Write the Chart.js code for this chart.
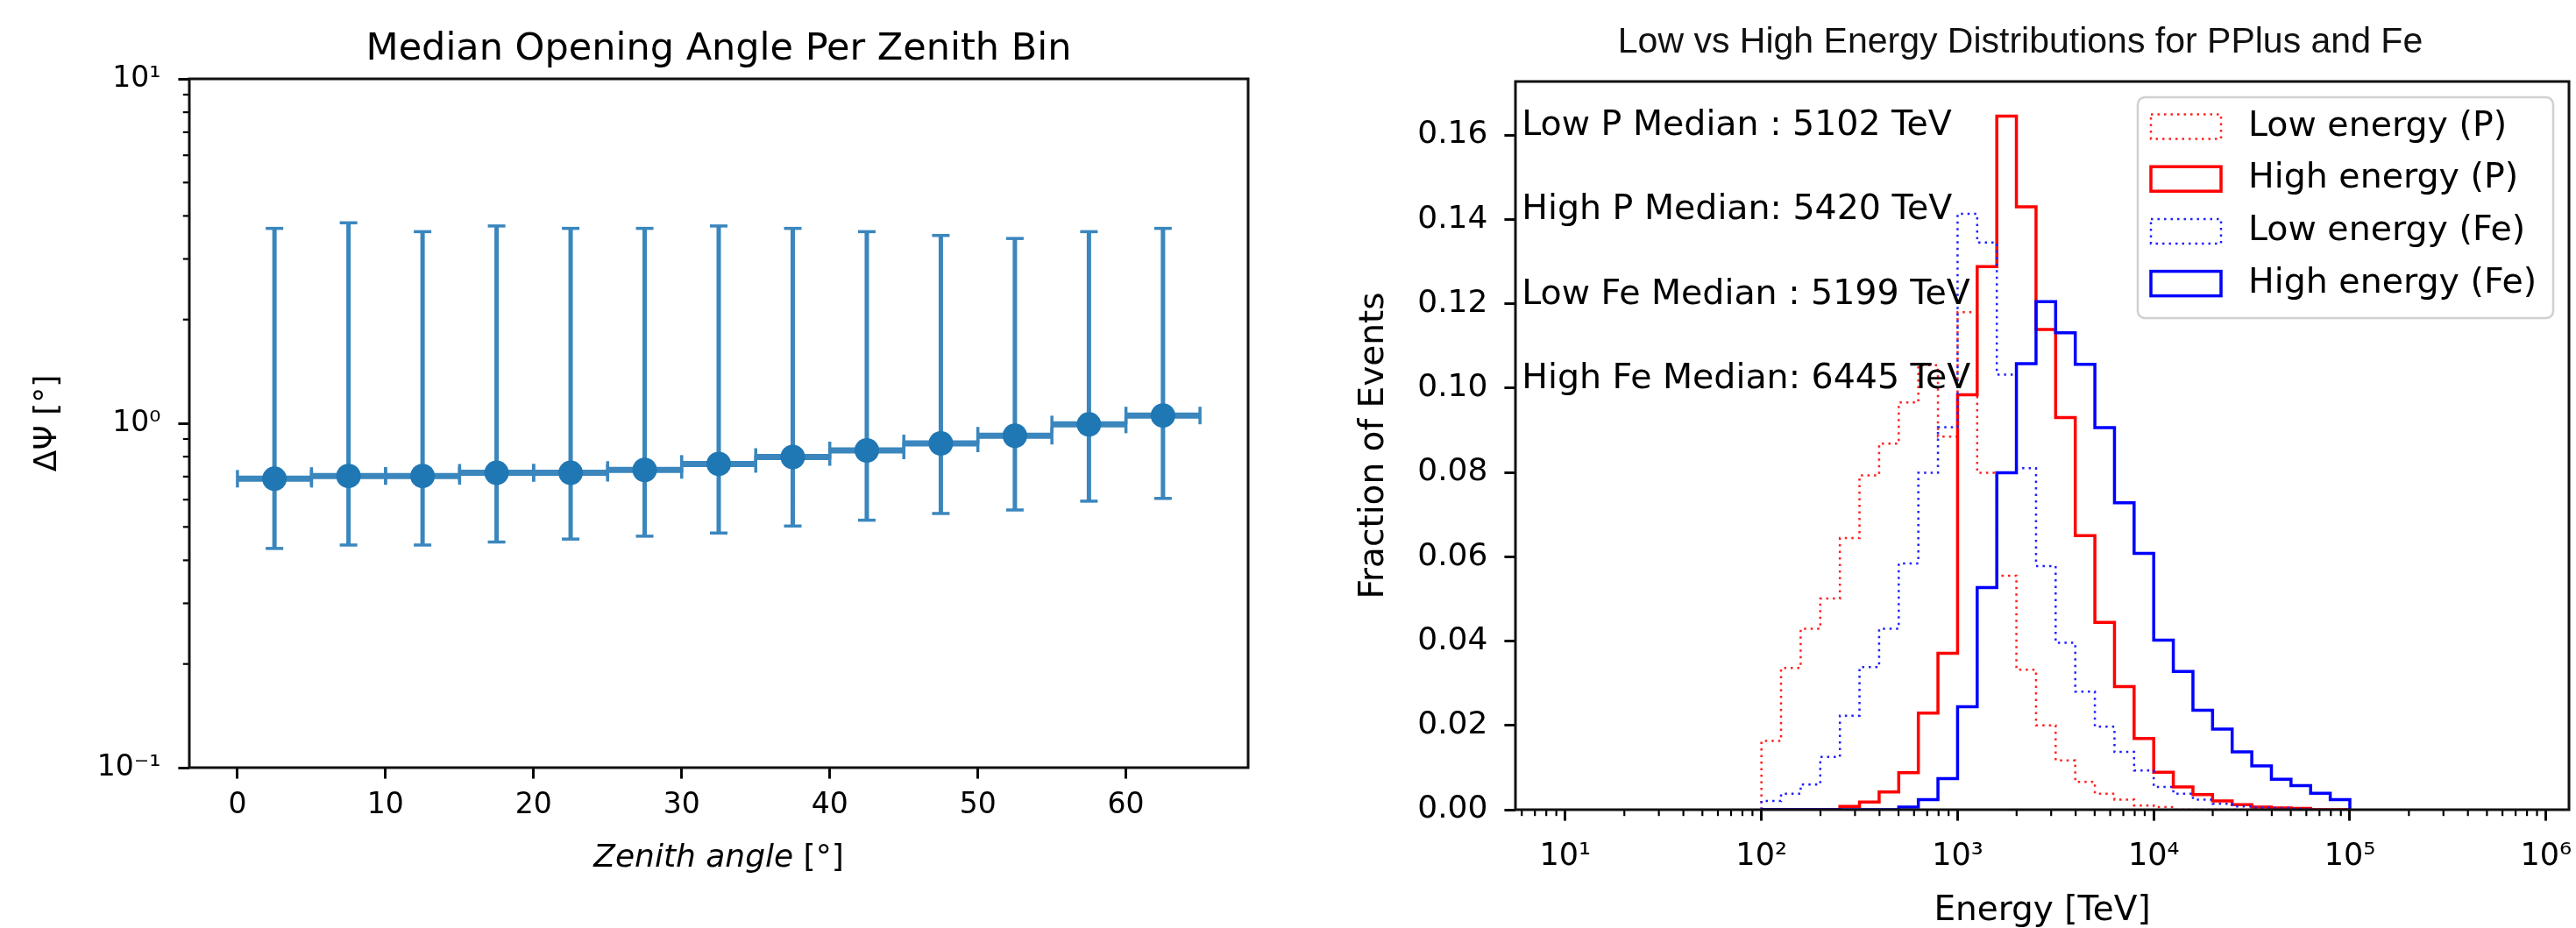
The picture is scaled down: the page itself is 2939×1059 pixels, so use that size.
<!DOCTYPE html>
<html>
<head>
<meta charset="utf-8">
<script src="https://cdn.jsdelivr.net/npm/chart.js@4.4.0/dist/chart.umd.min.js"></script>
<style>
  html, body { margin: 0; padding: 0; background: #fff; overflow: hidden; }
  #wrap { position: relative; width: 2939px; height: 1059px; overflow: hidden; background: #fff; }
  canvas { position: absolute; top: 0; }
</style>
</head>
<body>
<div id="wrap">
  <canvas id="zenith" width="1470" height="1059" style="left:0px"></canvas>
  <canvas id="energy" width="1500" height="1059" style="left:1470px"></canvas>
</div>
<script>
// left panel: median opening angle per zenith bin
const zenithCenters = [2.5, 7.5, 12.5, 17.5, 22.5, 27.5, 32.5, 37.5, 42.5, 47.5, 52.5, 57.5, 62.5];
const zenithLow     = [0, 5, 10, 15, 20, 25, 30, 35, 40, 45, 50, 55, 60];
const zenithHigh    = [5, 10, 15, 20, 25, 30, 35, 40, 45, 50, 55, 60, 65];
const medianAngle   = [0.690, 0.703, 0.703, 0.718, 0.718, 0.732, 0.762, 0.798, 0.834, 0.874, 0.920, 0.992, 1.053];
const angleLow      = [0.433, 0.443, 0.443, 0.452, 0.461, 0.470, 0.480, 0.503, 0.523, 0.547, 0.560, 0.594, 0.605];
const angleHigh     = [3.68, 3.82, 3.60, 3.74, 3.68, 3.68, 3.74, 3.68, 3.60, 3.51, 3.44, 3.60, 3.68];
const zenithTicks   = [0, 10, 20, 30, 40, 50, 60];
const angleTicks    = [0.1, 1, 10];
const angleTickLabels = ['10\u207B\u00B9', '10\u2070', '10\u00B9'];

// right panel: energy histograms (fraction of events per bin)
const energyEdges = [100, 125.89, 158.49, 199.53, 251.19, 316.23, 398.11, 501.19, 630.96, 794.33,
  1000, 1258.9, 1584.9, 1995.3, 2511.9, 3162.3, 3981.1, 5011.9, 6309.6, 7943.3,
  10000, 12589, 15849, 19953, 25119, 31623, 39811, 50119, 63096, 79433, 100000];
const lowP   = [0.0163, 0.0336, 0.0429, 0.0501, 0.0644, 0.0793, 0.0868, 0.0966, 0.1054, 0.0885,
  0.1180, 0.0799, 0.0555, 0.0332, 0.0200, 0.0117, 0.0066, 0.0038, 0.0024, 0.0010,
  0.0006, 0, 0, 0, 0, 0, 0, 0, 0, 0];
const highP  = [0, 0, 0, 0, 0.0008, 0.0018, 0.0042, 0.0088, 0.0229, 0.0371,
  0.0984, 0.1288, 0.1645, 0.1430, 0.1139, 0.0930, 0.0650, 0.0444, 0.0292, 0.0169,
  0.0089, 0.0054, 0.0036, 0.0021, 0.0012, 0.0006, 0.0004, 0.0003, 0, 0];
const lowFe  = [0.0021, 0.0038, 0.0060, 0.0125, 0.0223, 0.0338, 0.0429, 0.0584, 0.0799, 0.0907,
  0.1413, 0.1345, 0.1032, 0.0810, 0.0578, 0.0396, 0.0280, 0.0197, 0.0137, 0.0093,
  0.0054, 0.0038, 0.0024, 0.0014, 0.0008, 0.0005, 0.0004, 0.0002, 0, 0];
const highFe = [0, 0, 0, 0, 0, 0, 0, 0.0006, 0.0024, 0.0074,
  0.0244, 0.0527, 0.0799, 0.1058, 0.1205, 0.1131, 0.1056, 0.0906, 0.0728, 0.0608,
  0.0402, 0.0328, 0.0236, 0.0191, 0.0137, 0.0104, 0.0072, 0.0057, 0.0039, 0.0024];
const seriesNames = ['Low energy (P)', 'High energy (P)', 'Low energy (Fe)', 'High energy (Fe)'];
const energyTicks = [10, 100, 1000, 10000, 100000, 1000000];
const energyTickLabels = ['10\u00B9', '10\u00B2', '10\u00B3', '10\u2074', '10\u2075', '10\u2076'];
const fractionTicks = [0, 0.02, 0.04, 0.06, 0.08, 0.10, 0.12, 0.14, 0.16];
const medianNotes = ['Low P Median : 5102 TeV', 'High P Median: 5420 TeV', 'Low Fe Median : 5199 TeV', 'High Fe Median: 6445 TeV'];
const medianNoteY = [0.16, 0.14, 0.12, 0.10];
const medianNoteX = 6;

const FONT = 'DejaVu Sans';
const BLUE = '#1f77b4';
const BAR_BLUE = '#3a86bd';

function logMinor(lo, hi) {
  const out = [];
  for (let e = lo; e <= hi; e++) {
    for (let m = 2; m <= 9; m++) out.push(m * Math.pow(10, e));
  }
  return out;
}

function drawMinor(ctx, scale, values, len, horizontal) {
  ctx.save();
  ctx.strokeStyle = '#000';
  ctx.lineWidth = 2.2;
  values.forEach(v => {
    if (v < scale.min || v > scale.max) return;
    const p = scale.getPixelForValue(v);
    ctx.beginPath();
    if (horizontal) { ctx.moveTo(p, scale.top); ctx.lineTo(p, scale.top + len); }
    else { ctx.moveTo(scale.right, p); ctx.lineTo(scale.right - len, p); }
    ctx.stroke();
  });
  ctx.restore();
}

function drawBox(ctx, a) {
  ctx.save();
  ctx.strokeStyle = '#111';
  ctx.lineWidth = 3;
  ctx.strokeRect(a.left, a.top, a.right - a.left, a.bottom - a.top);
  ctx.restore();
}

function stepPoints(edges, values) {
  const pts = [{x: edges[0], y: 0}];
  values.forEach((v, i) => pts.push({x: edges[i], y: v}));
  pts.push({x: edges[values.length], y: 0});
  return pts;
}

// error bar segments, broken with null between bins
const vBars = [];
const hBars = [];
zenithCenters.forEach((c, i) => {
  vBars.push({x: c, y: angleLow[i]}, {x: c, y: angleHigh[i]}, {x: c, y: null});
  hBars.push({x: zenithLow[i], y: medianAngle[i]}, {x: zenithHigh[i], y: medianAngle[i]}, {x: zenithLow[i], y: null});
});

const zenithDecor = {
  id: 'zenithDecor',
  afterDatasetsDraw(chart) {
    const ctx = chart.ctx, a = chart.chartArea;
    drawMinor(ctx, chart.scales.y, logMinor(-1, 0), 7.2, false);
    drawBox(ctx, a);
    ctx.save();
    ctx.fillStyle = '#000';
    ctx.textBaseline = 'alphabetic';
    ctx.textAlign = 'center';
    ctx.font = '43px "' + FONT + '"';
    ctx.fillText('Median Opening Angle Per Zenith Bin', (a.left + a.right) / 2, 68);
    // x label: italic math part + upright unit
    const it = 'Zenith angle', up = ' [\u00B0]';
    ctx.font = 'italic 36px "' + FONT + '"';
    const w1 = ctx.measureText(it).width;
    ctx.font = '36px "' + FONT + '"';
    const w2 = ctx.measureText(up).width;
    const x0 = (a.left + a.right) / 2 - (w1 + w2) / 2;
    ctx.textAlign = 'left';
    ctx.textBaseline = 'middle';
    ctx.font = 'italic 36px "' + FONT + '"';
    ctx.fillText(it, x0, 980);
    ctx.font = '36px "' + FONT + '"';
    ctx.fillText(up, x0 + w1, 980);
    // y label
    ctx.translate(55, (a.top + a.bottom) / 2);
    ctx.rotate(-Math.PI / 2);
    ctx.textAlign = 'center';
    ctx.fillText('\u0394\u03A8 [\u00B0]', 0, 0);
    ctx.restore();
  }
};

new Chart(document.getElementById('zenith'), {
  type: 'scatter',
  data: {
    datasets: [
      { label: 'median', data: zenithCenters.map((x, i) => ({x, y: medianAngle[i]})),
        showLine: false, pointRadius: 14, pointBackgroundColor: BLUE, pointBorderWidth: 0, order: 0 },
      { label: 'xerr', data: hBars, showLine: true, spanGaps: false, borderColor: BAR_BLUE, borderWidth: 7,
        pointStyle: 'line', pointRotation: 90, pointRadius: 10, pointBorderColor: BAR_BLUE, pointBorderWidth: 3.5, order: 1 },
      { label: 'yerr', data: vBars, showLine: true, spanGaps: false, borderColor: BAR_BLUE, borderWidth: 5,
        pointStyle: 'line', pointRotation: 0, pointRadius: 10, pointBorderColor: BAR_BLUE, pointBorderWidth: 3.5, order: 2 }
    ]
  },
  options: {
    responsive: false,
    animation: false,
    events: [],
    layout: { padding: { top: 90, right: 46, bottom: 0, left: 0 } },
    plugins: { legend: { display: false }, tooltip: { enabled: false }, title: { display: false } },
    scales: {
      x: {
        type: 'linear', min: -3.25, max: 68.25,
        afterFit: s => { s.height = 183; },
        afterBuildTicks: s => { s.ticks = zenithTicks.map(v => ({value: v})); },
        ticks: { font: { family: FONT, size: 33 }, color: '#000', padding: 11, maxRotation: 0, autoSkip: false,
                 callback: v => String(v) },
        grid: { display: true, drawOnChartArea: false, drawTicks: true, tickLength: 12.6, tickWidth: 2.9, tickColor: '#000' },
        border: { display: false }
      },
      y: {
        type: 'logarithmic', min: 0.1, max: 10,
        afterFit: s => { s.width = 216; },
        afterBuildTicks: s => { s.ticks = angleTicks.map(v => ({value: v})); },
        ticks: { font: { family: FONT, size: 33 }, color: '#000', padding: 20, autoSkip: false,
                 callback: (v, i) => angleTickLabels[i] },
        grid: { display: true, drawOnChartArea: false, drawTicks: true, tickLength: 12.6, tickWidth: 2.9, tickColor: '#000' },
        border: { display: false }
      }
    }
  },
  plugins: [zenithDecor]
});

const energyDecor = {
  id: 'energyDecor',
  afterDatasetsDraw(chart) {
    const ctx = chart.ctx, a = chart.chartArea;
    const xs = chart.scales.x, ys = chart.scales.y;
    drawMinor(ctx, xs, logMinor(0, 6), 7.2, true);
    drawBox(ctx, a);
    ctx.save();
    ctx.fillStyle = '#000';
    // median notes
    ctx.font = '39.5px "' + FONT + '"';
    ctx.textAlign = 'left';
    ctx.textBaseline = 'alphabetic';
    medianNotes.forEach((t, i) => {
      ctx.fillText(t, xs.getPixelForValue(medianNoteX), ys.getPixelForValue(medianNoteY[i]));
    });
    // legend
    const fw = 474, fh = 252;
    const fx = a.right - 18 - fw, fy = a.top + 18;
    ctx.beginPath();
    ctx.roundRect(fx, fy, fw, fh, 8);
    ctx.fillStyle = 'rgba(255,255,255,0.8)';
    ctx.fill();
    ctx.strokeStyle = '#d0d0d0';
    ctx.lineWidth = 2.5;
    ctx.stroke();
    ctx.textBaseline = 'middle';
    chart.data.datasets.forEach((ds, i) => {
      const cy = fy + 33.5 + i * 59.7;
      ctx.save();
      ctx.strokeStyle = ds.borderColor;
      ctx.lineWidth = ds.borderWidth;
      ctx.setLineDash(ds.borderDash || []);
      ctx.strokeRect(fx + 15, cy - 14, 80, 28);
      ctx.restore();
      ctx.fillStyle = '#000';
      ctx.fillText(seriesNames[i], fx + 126, cy);
    });
    // titles
    ctx.textAlign = 'center';
    ctx.font = '39px "' + FONT + '"';
    ctx.fillText('Energy [TeV]', (a.left + a.right) / 2, 1040);
    ctx.font = '41px "Liberation Sans"';
    ctx.fillStyle = '#111';
    ctx.textBaseline = 'alphabetic';
    ctx.fillText('Low vs High Energy Distributions for PPlus and Fe', 835, 60);
    ctx.fillStyle = '#000';
    ctx.font = '39px "' + FONT + '"';
    ctx.textBaseline = 'middle';
    ctx.translate(98, (a.top + a.bottom) / 2);
    ctx.rotate(-Math.PI / 2);
    ctx.fillText('Fraction of Events', 0, 0);
    ctx.restore();
  }
};

const dotted = [2.5, 5];
new Chart(document.getElementById('energy'), {
  type: 'scatter',
  data: {
    datasets: [
      { label: seriesNames[0], data: stepPoints(energyEdges, lowP), borderColor: '#ff2020', borderWidth: 2.5, borderDash: dotted, order: 4 },
      { label: seriesNames[1], data: stepPoints(energyEdges, highP), borderColor: '#ff0000', borderWidth: 3.5, order: 3 },
      { label: seriesNames[2], data: stepPoints(energyEdges, lowFe), borderColor: '#2020ff', borderWidth: 2.5, borderDash: dotted, order: 2 },
      { label: seriesNames[3], data: stepPoints(energyEdges, highFe), borderColor: '#0000ff', borderWidth: 3.5, order: 1 }
    ].map(d => Object.assign(d, { showLine: true, stepped: 'before', pointRadius: 0, fill: false, backgroundColor: 'transparent' }))
  },
  options: {
    responsive: false,
    animation: false,
    events: [],
    layout: { padding: { top: 93, right: 39, bottom: 0, left: 0 } },
    plugins: { legend: { display: false }, tooltip: { enabled: false }, title: { display: false } },
    scales: {
      x: {
        type: 'logarithmic', min: 5.57, max: 1.31e6,
        afterFit: s => { s.height = 135; },
        afterBuildTicks: s => { s.ticks = energyTicks.map(v => ({value: v})); },
        ticks: { font: { family: FONT, size: 35 }, color: '#000', padding: 20, maxRotation: 0, autoSkip: false,
                 callback: (v, i) => energyTickLabels[i] },
        grid: { display: true, drawOnChartArea: false, drawTicks: true, tickLength: 12.6, tickWidth: 2.9, tickColor: '#000' },
        border: { display: false }
      },
      y: {
        type: 'linear', min: 0, max: 0.1727,
        afterFit: s => { s.width = 259; },
        afterBuildTicks: s => { s.ticks = fractionTicks.map(v => ({value: v})); },
        ticks: { font: { family: FONT, size: 36 }, color: '#000', padding: 19, autoSkip: false,
                 callback: v => v.toFixed(2) },
        grid: { display: true, drawOnChartArea: false, drawTicks: true, tickLength: 12.6, tickWidth: 2.9, tickColor: '#000' },
        border: { display: false }
      }
    }
  },
  plugins: [energyDecor]
});
</script>
</body>
</html>
